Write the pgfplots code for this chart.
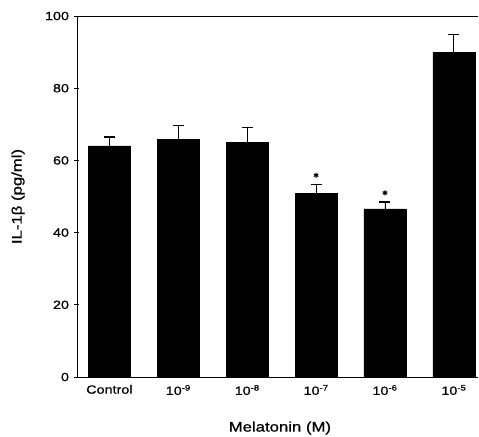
\documentclass[border=0pt]{standalone}
\usepackage{fontspec}
\setmainfont{Liberation Sans}[FakeStretch=1.2, FakeBold=0.8]
\usepackage{pgfplots}
\pgfplotsset{compat=1.18}

\begin{document}
\begin{tikzpicture}
\path[use as bounding box] (-77bp,-60bp) rectangle (402bp,377bp);
\begin{axis}[
  scale only axis,
  width=401bp, height=361bp,
  xmin=-0.47, xmax=5.35,
  ymin=0, ymax=100,
  axis x line*=bottom, axis y line*=left,
  axis line style={line width=0.9pt},
  ytick={0,20,40,60,80,100},
  xtick={0,1,2,3,4,5},
  xticklabels={Control,10\textsuperscript{-9},10\textsuperscript{-8},10\textsuperscript{-7},10\textsuperscript{-6},10\textsuperscript{-5}},
  major x tick style={draw=none},
  tick align=center, major tick length=5bp,
  tick style={black, line width=0.8pt},
  /pgf/number format/assume math mode=true,
  tick label style={font=\fontsize{12}{13}\selectfont},
  yticklabel style={xshift=-2bp},
  xticklabel style={yshift=-2bp},
  xlabel={Melatonin (M)},
  ylabel={IL-1β (pg/ml)},
  label style={font=\fontsize{14}{16}\selectfont},
  xlabel style={at={(axis description cs:0.506,0)}, anchor=center, yshift=-51bp},
  ylabel style={at={(axis description cs:-0.147,0.5)}, anchor=center},
  clip=false,
]
\addplot[ybar, bar width=42bp, bar shift=0pt, fill=black, draw=black,
  error bars/.cd, y dir=plus, y explicit, error mark=|,
  error bar style={line width=0.9pt, black},
  error mark options={mark size=5.5bp, line width=1.2pt, black}]
  coordinates {
  (0,64.0) +- (0,2.5)
  (1,65.8) +- (0,3.9)
  (2,65.0) +- (0,4.2)
  (3,50.9) +- (0,2.5)
  (4,46.6) +- (0,1.9)
  (5,89.9) +- (0,4.9)
};
\addplot[only marks, mark=asterisk, mark size=2.6bp, line width=1.1pt, black]
  coordinates {(3,55.9) (4,51.0)};
\draw[line width=0.8pt] (rel axis cs:0,1) -- (rel axis cs:1,1);
\end{axis}
\end{tikzpicture}
\end{document}
